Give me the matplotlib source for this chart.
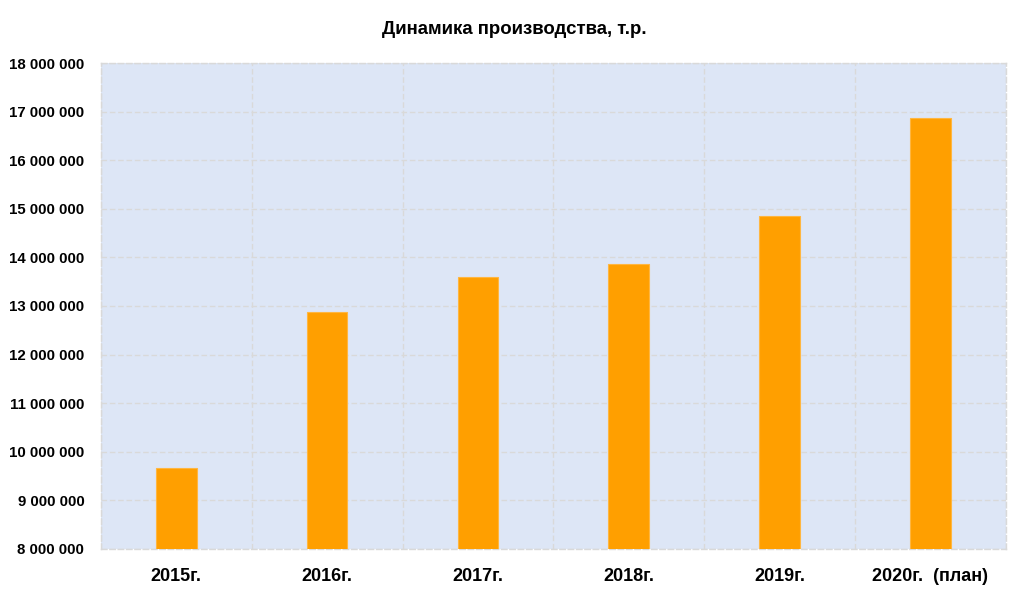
import numpy as np
import matplotlib
matplotlib.use("Agg")
import matplotlib.pyplot as plt
from matplotlib.ticker import FuncFormatter

years = ["2015г.", "2016г.", "2017г.", "2018г.", "2019г.", "2020г.  (план)"]
production = [9670000, 12880000, 13600000, 13870000, 14850000, 16860000]

plt.rcParams['font.family'] = ['Liberation Sans', 'DejaVu Sans']

fig = plt.figure(figsize=(10.24, 5.99), dpi=100)
ax = fig.add_axes([0.0986, 0.0835, 0.8834, 0.8113])

x = np.arange(len(years))
ax.bar(x, production, width=0.27, color='#ff9f00', edgecolor='#ffb640', linewidth=0.8, zorder=3)

ax.set_facecolor('#dde6f6')
ax.set_xlim(-0.5, len(years) - 0.5)
ax.set_ylim(8000000, 18000000)
ax.set_yticks(np.arange(8000000, 18000001, 1000000))
ax.yaxis.set_major_formatter(FuncFormatter(lambda v, p: "{:,.0f}".format(v).replace(",", " ")))
ax.set_xticks(x)
ax.set_xticklabels(years)
ax.set_xticks(np.arange(-0.5, len(years), 1.0), minor=True)

ax.grid(axis='y', which='major', color='#d9d9d9', linestyle=(0, (4, 2)), linewidth=1.0, zorder=0)
ax.grid(axis='x', which='minor', color='#d9d9d9', linestyle=(0, (4, 2)), linewidth=1.0, zorder=0)
ax.tick_params(axis='both', which='both', length=0)
ax.tick_params(axis='y', pad=12)
ax.tick_params(axis='x', pad=14)

for lbl in ax.get_yticklabels():
    lbl.set_fontweight('bold')
    lbl.set_fontsize(10.8)
for lbl in ax.get_xticklabels():
    lbl.set_fontweight('bold')
    lbl.set_fontsize(13)

for s in ax.spines.values():
    s.set_color('#d9d9d9')
    s.set_linestyle((0, (4, 2)))
    s.set_linewidth(1.0)

fig.text(0.5025, 0.95, "Динамика производства, т.р.", ha='center', va='center',
         fontsize=13.4, fontweight='bold')

fig.savefig("out.png", dpi=100)
